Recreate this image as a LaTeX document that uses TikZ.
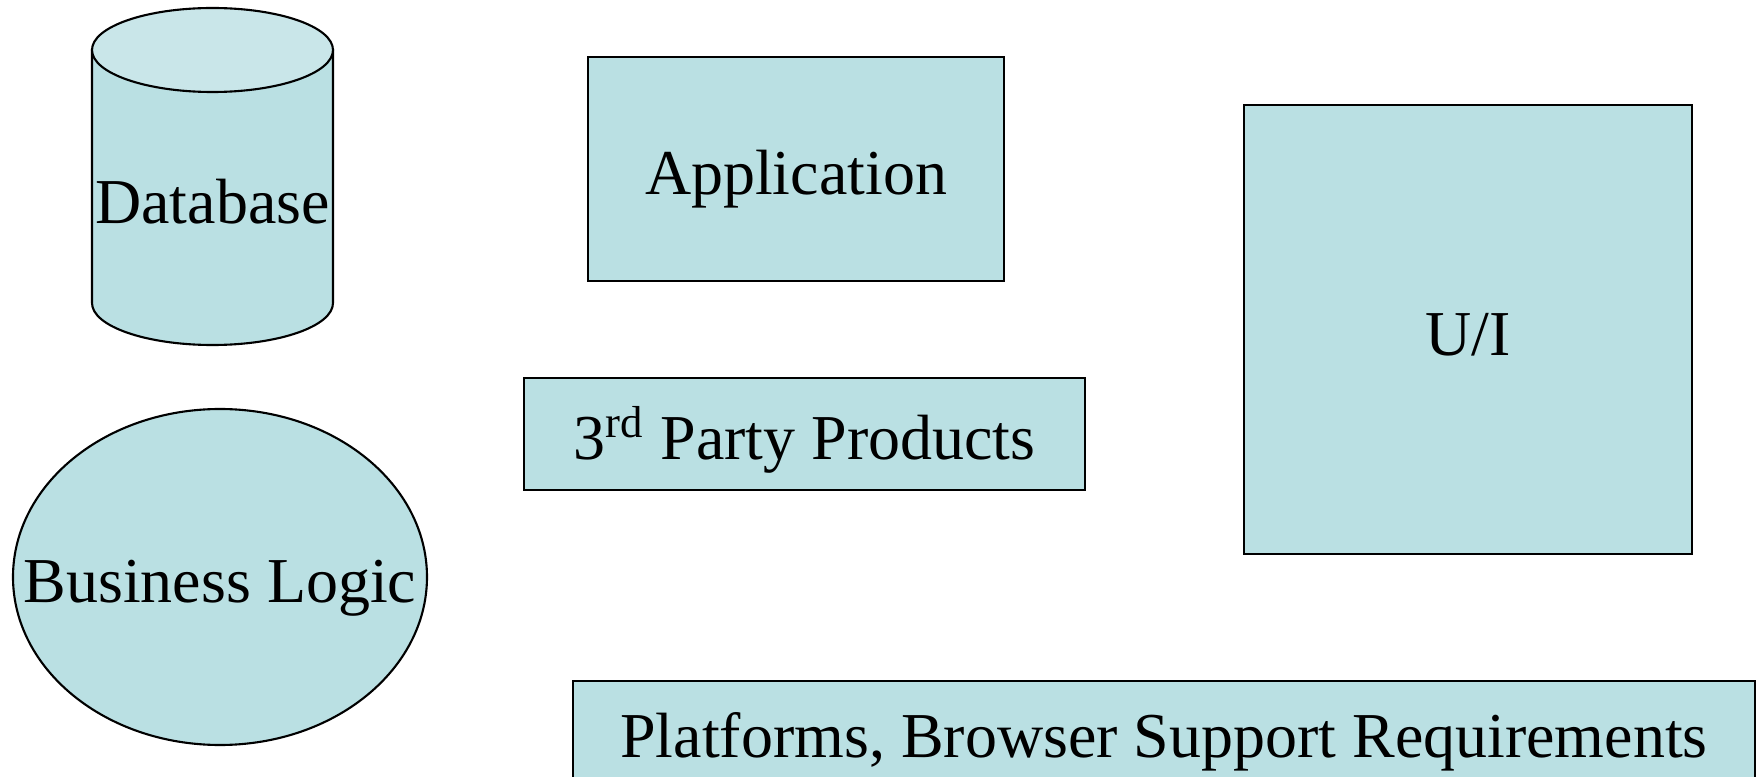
\documentclass[tikz,border=0pt]{standalone}
\usepackage{fontspec}
\setmainfont{Liberation Serif}
\usetikzlibrary{shapes.geometric}
\definecolor{boxfill}{RGB}{186,224,227}
\definecolor{topfill}{RGB}{201,230,233}
\newcommand*{\LabelSize}{\fontsize{18.2}{22}\selectfont}
\tikzset{
  part/.style={draw=black, fill=boxfill, line width=0.6pt, inner sep=0pt},
  caption/.style={font=\LabelSize, text height=17pt, text depth=2.4pt, inner sep=0pt},
  block/.style={part, caption, rectangle},
}

\begin{document}
\begin{tikzpicture}
    \useasboundingbox (0,0) rectangle (17.57,7.76);
    % database cylinder
    \filldraw[part] (0.92,7.26) -- (0.92,4.73) arc (180:360:1.205 and 0.42) -- (3.33,7.26) -- cycle;
    \filldraw[part, fill=topfill] (2.125,7.26) ellipse (1.205 and 0.42);
    \node [caption] (db) at (2.125,5.78) {Database};

    % business logic
    \node [part, ellipse, minimum width=4.14cm, minimum height=3.36cm] (logic) at (2.20,1.99) {};
    \node [caption] (logictext) at (logic.center) {Business Logic};

    \node [block, minimum width=4.16cm, minimum height=2.24cm] (app) at (7.96,6.07) {Application};
    \node [block, minimum width=5.61cm, minimum height=1.12cm] (third) at (8.045,3.42) {3\textsuperscript{rd} Party Products};
    \node [block, minimum width=4.48cm, minimum height=4.49cm] (ui) at (14.68,4.465) {U/I};
    \node [block, minimum width=11.82cm, minimum height=1.02cm] (platforms) at (11.64,0.44) {Platforms, Browser Support Requirements};
\end{tikzpicture}
\end{document}
